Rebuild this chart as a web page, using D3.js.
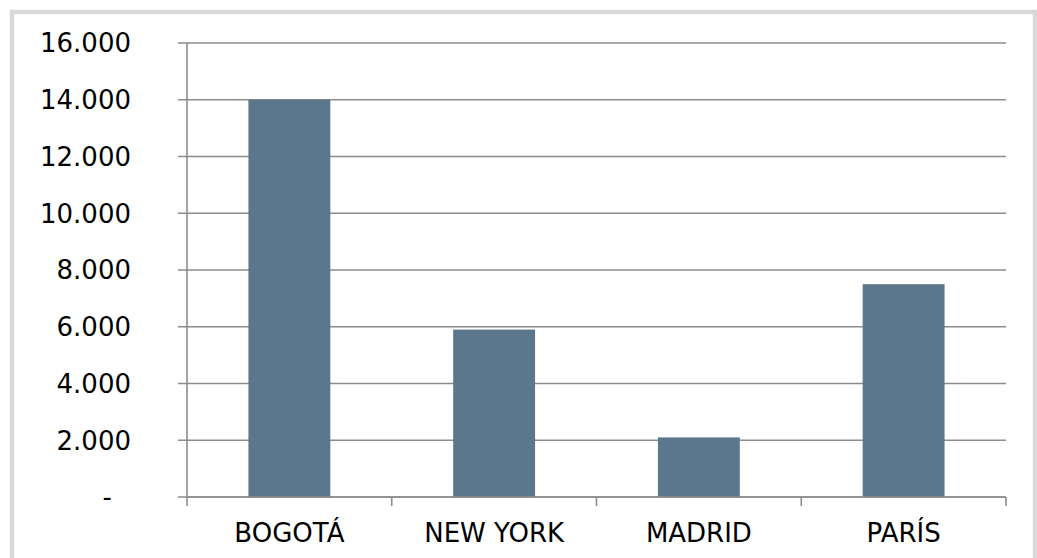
<!DOCTYPE html>
<html>
<head>
<meta charset="utf-8">
<script src="https://d3js.org/d3.v7.min.js"></script>
<style>
  body { margin: 0; background: #fff; }
  svg { display: block; }
</style>
</head>
<body>
<div id="chart"></div>
<script>
var cities = ["BOGOTÁ", "NEW YORK", "MADRID", "PARÍS"];
var values = [14000, 5900, 2100, 7500];
var yTicks = [0, 2000, 4000, 6000, 8000, 10000, 12000, 14000, 16000];

var data = cities.map(function(c, i) { return {group: c, value: values[i]}; });

var W = 1037, H = 558;
var plot = {left: 187, right: 1006, top: 43, bottom: 497};

var svg = d3.select("#chart")
    .append("svg")
    .attr("width", W)
    .attr("height", H)
    .style("font-family", "'DejaVu Sans', Verdana, sans-serif");

// outer frame
svg.append("rect")
    .attr("x", 12).attr("y", 12)
    .attr("width", 1023).attr("height", 600)
    .attr("fill", "#fff")
    .attr("stroke", "#d9d9d9")
    .attr("stroke-width", 4.5);

var x = d3.scaleBand()
    .domain(cities)
    .range([plot.left, plot.right]);

var y = d3.scaleLinear()
    .domain([0, 16000])
    .range([plot.bottom, plot.top]);

// gridlines
svg.append("g")
    .selectAll("line")
    .data(yTicks)
    .enter()
    .append("line")
    .attr("x1", plot.left - 9)
    .attr("x2", plot.right)
    .attr("y1", function(d) { return y(d); })
    .attr("y2", function(d) { return y(d); })
    .attr("stroke", "#8c8c8c")
    .attr("stroke-width", 1.6);

// y axis labels
var fmt = function(d) {
    if (d === 0) return "-";
    return d3.format(",")(d).replace(/,/g, ".");
};
svg.append("g")
    .selectAll("text")
    .data(yTicks)
    .enter()
    .append("text")
    .attr("x", function(d) { return d === 0 ? 112 : 131; })
    .attr("y", function(d) { return y(d); })
    .attr("dy", "0.36em")
    .attr("text-anchor", "end")
    .attr("font-size", 26)
    .attr("fill", "#000")
    .text(fmt);

// left axis line
svg.append("line")
    .attr("x1", plot.left).attr("x2", plot.left)
    .attr("y1", plot.top).attr("y2", plot.bottom)
    .attr("stroke", "#8c8c8c")
    .attr("stroke-width", 1.6);

// bars
var barW = x.bandwidth() * 0.4;
svg.append("g")
    .selectAll("rect")
    .data(data)
    .enter()
    .append("rect")
    .attr("x", function(d) { return x(d.group) + (x.bandwidth() - barW) / 2; })
    .attr("y", function(d) { return y(d.value); })
    .attr("width", barW)
    .attr("height", function(d) { return plot.bottom - y(d.value); })
    .attr("fill", "#5b778d");

// bottom axis
var xAxis = svg.append("g")
    .attr("transform", "translate(0," + plot.bottom + ")")
    .call(d3.axisBottom(x).tickSize(0).tickPadding(36).tickSizeOuter(0));
xAxis.select(".domain").remove();
xAxis.selectAll("text")
    .attr("font-size", 26)
    .attr("font-family", "'DejaVu Sans', Verdana, sans-serif")
    .attr("fill", "#000")
    .attr("dy", "0.36em")
    .attr("y", 36);

svg.append("line")
    .attr("x1", plot.left).attr("x2", plot.right)
    .attr("y1", plot.bottom).attr("y2", plot.bottom)
    .attr("stroke", "#8c8c8c")
    .attr("stroke-width", 1.6);

// category separators
var seps = cities.map(function(c) { return x(c); }).concat([plot.right]);
svg.append("g")
    .selectAll("line")
    .data(seps)
    .enter()
    .append("line")
    .attr("x1", function(d) { return d; })
    .attr("x2", function(d) { return d; })
    .attr("y1", plot.bottom)
    .attr("y2", plot.bottom + 9)
    .attr("stroke", "#8c8c8c")
    .attr("stroke-width", 1.6);
</script>
</body>
</html>
